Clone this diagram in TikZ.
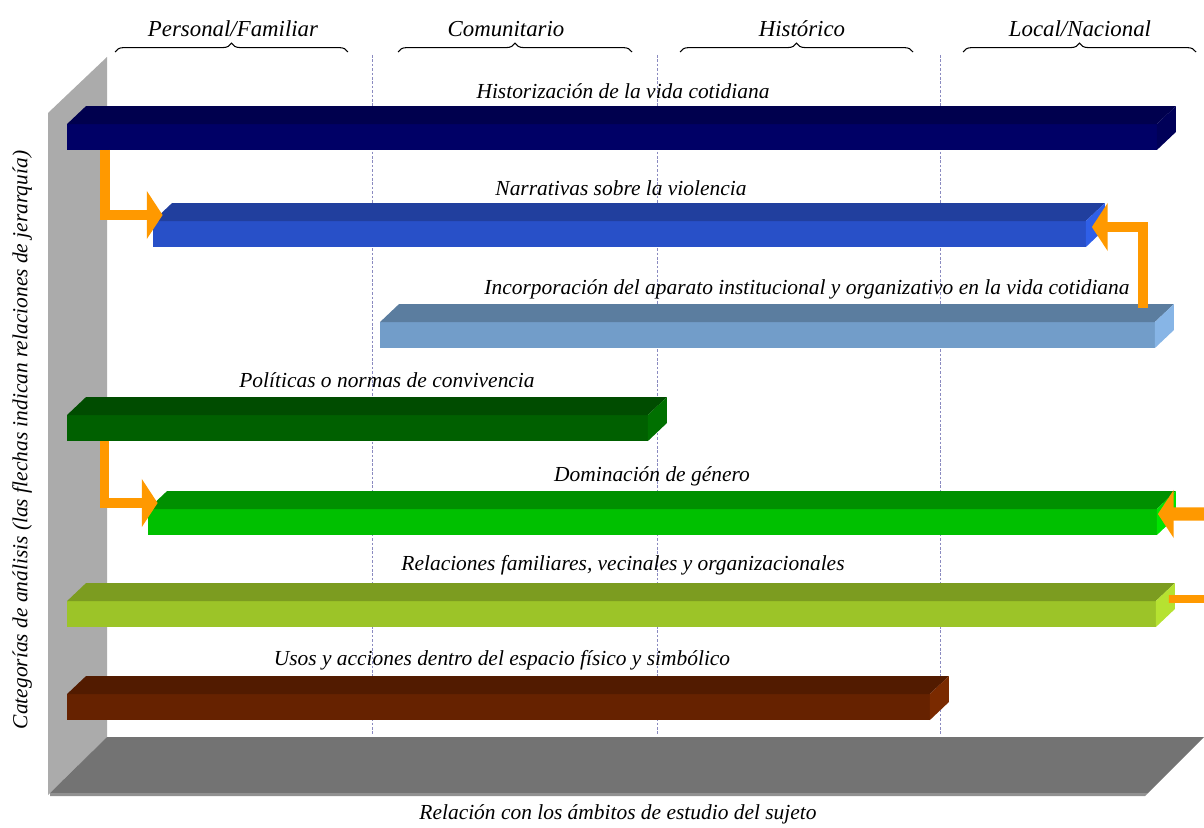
\documentclass[tikz,border=0pt]{standalone}
\usepackage{fontspec}
\setmainfont{Liberation Serif}
\usetikzlibrary{arrows.meta,calc,decorations.pathreplacing}

\definecolor{wallgray}{HTML}{ABABAB}
\definecolor{floorgray}{HTML}{737373}
\definecolor{flooredge}{HTML}{919191}
\definecolor{gridline}{HTML}{8A8AC0}
\definecolor{arroworange}{HTML}{FF9900}
\definecolor{histF}{HTML}{000066}
\definecolor{histT}{HTML}{00004E}
\definecolor{histS}{HTML}{000058}
\definecolor{narrF}{HTML}{2850C8}
\definecolor{narrT}{HTML}{213F9E}
\definecolor{narrS}{HTML}{2F5FE8}
\definecolor{incF}{HTML}{729DC9}
\definecolor{incT}{HTML}{5B7D9F}
\definecolor{incS}{HTML}{87B5E6}
\definecolor{polF}{HTML}{006000}
\definecolor{polT}{HTML}{004C00}
\definecolor{polS}{HTML}{007000}
\definecolor{domF}{HTML}{00C000}
\definecolor{domT}{HTML}{009000}
\definecolor{domS}{HTML}{00E400}
\definecolor{relF}{HTML}{9CC428}
\definecolor{relT}{HTML}{7C9C20}
\definecolor{relS}{HTML}{B6E231}
\definecolor{usoF}{HTML}{662200}
\definecolor{usoT}{HTML}{521B00}
\definecolor{usoS}{HTML}{7A2A00}

\begin{document}
\begin{tikzpicture}[x=0.02cm,y=-0.02cm]
    % Node styles
    \tikzstyle{bar_style} = [rectangle, inner sep=0pt, outer sep=0pt, minimum height=0.52cm]
    \tikzstyle{label_style} = [inner sep=0pt, font=\fontsize{12.2}{15}\selectfont\itshape]
    \tikzstyle{head_style} = [inner sep=0pt, font=\fontsize{13}{15}\selectfont\itshape]
    \tikzstyle{grid_style} = [gridline, line width=0.5pt, dash pattern=on 1.5pt off 1pt]
    \tikzstyle{brace_style} = [line width=0.6pt, decorate, decoration={brace, amplitude=5pt}]
    \tikzstyle{arrow_style} = [arroworange, line width=5.6pt, -{Triangle[length=9pt, width=27pt]}]

    \useasboundingbox (0,0) rectangle (1204,828);

    % Wall and floor
    \fill[wallgray] (48,113) -- (107,57) -- (107,737) -- (48,795) -- cycle;
    \fill[floorgray] (107,737) -- (1204,737) -- (1148,793) -- (50,793) -- cycle;
    \fill[flooredge] (50,793) -- (1148,793) -- (1145,796) -- (50,796) -- cycle;

    % Grid lines
    \draw[grid_style] (372,55) -- (372,735);
    \draw[grid_style] (657,55) -- (657,735);
    \draw[grid_style] (940,55) -- (940,735);

    % Headers
    \node[head_style] (pers) at (233,29) {Personal/Familiar};
    \node[head_style] (comu) at (506,29) {Comunitario};
    \node[head_style] (hist_head) at (802,29) {Histórico};
    \node[head_style] (loc) at (1080,29) {Local/Nacional};
    \draw[brace_style] (115,52) -- (348,52);
    \draw[brace_style] (398,52) -- (632,52);
    \draw[brace_style] (680,52) -- (913,52);
    \draw[brace_style] (963,52) -- (1196,52);

    % Bars
    \node[bar_style, fill=histF, minimum width=21.8cm] (hist) at (612,137) {};
    \fill[histT] (hist.north west) -- ++(19,-18) -- ($(hist.north east)+(19,-18)$) -- (hist.north east) -- cycle;
    \fill[histS] (hist.north east) -- ++(19,-18) -- ($(hist.south east)+(19,-18)$) -- (hist.south east) -- cycle;

    \node[bar_style, fill=narrF, minimum width=18.66cm] (narr) at (619.5,234) {};
    \fill[narrT] (narr.north west) -- ++(19,-18) -- ($(narr.north east)+(19,-18)$) -- (narr.north east) -- cycle;
    \fill[narrS] (narr.north east) -- ++(19,-18) -- ($(narr.south east)+(19,-18)$) -- (narr.south east) -- cycle;

    \node[bar_style, fill=incF, minimum width=15.5cm] (inc) at (767.5,335) {};
    \fill[incT] (inc.north west) -- ++(19,-18) -- ($(inc.north east)+(19,-18)$) -- (inc.north east) -- cycle;
    \fill[incS] (inc.north east) -- ++(19,-18) -- ($(inc.south east)+(19,-18)$) -- (inc.south east) -- cycle;

    \node[bar_style, fill=polF, minimum width=11.62cm] (pol) at (357.5,428) {};
    \fill[polT] (pol.north west) -- ++(19,-18) -- ($(pol.north east)+(19,-18)$) -- (pol.north east) -- cycle;
    \fill[polS] (pol.north east) -- ++(19,-18) -- ($(pol.south east)+(19,-18)$) -- (pol.south east) -- cycle;

    \node[bar_style, fill=domF, minimum width=20.18cm] (dom) at (652.5,522) {};
    \fill[domT] (dom.north west) -- ++(19,-18) -- ($(dom.north east)+(19,-18)$) -- (dom.north east) -- cycle;
    \fill[domS] (dom.north east) -- ++(19,-18) -- ($(dom.south east)+(19,-18)$) -- (dom.south east) -- cycle;

    \node[bar_style, fill=relF, minimum width=21.78cm] (rel) at (611.5,614) {};
    \fill[relT] (rel.north west) -- ++(19,-18) -- ($(rel.north east)+(19,-18)$) -- (rel.north east) -- cycle;
    \fill[relS] (rel.north east) -- ++(19,-18) -- ($(rel.south east)+(19,-18)$) -- (rel.south east) -- cycle;

    \node[bar_style, fill=usoF, minimum width=17.26cm] (uso) at (498.5,707) {};
    \fill[usoT] (uso.north west) -- ++(19,-18) -- ($(uso.north east)+(19,-18)$) -- (uso.north east) -- cycle;
    \fill[usoS] (uso.north east) -- ++(19,-18) -- ($(uso.south east)+(19,-18)$) -- (uso.south east) -- cycle;

    % Labels for bars
    \node[label_style] (hist_label) at (623,91) {Historización de la vida cotidiana};
    \node[label_style] (narr_label) at (621,188) {Narrativas sobre la violencia};
    \node[label_style] (inc_label) at (807,289) {Incorporación del aparato institucional y organizativo en la vida cotidiana};
    \node[label_style] (pol_label) at (387,380) {Políticas o normas de convivencia};
    \node[label_style] (dom_label) at (652,476) {Dominación de género};
    \node[label_style] (rel_label) at (623,565) {Relaciones familiares, vecinales y organizacionales};
    \node[label_style] (uso_label) at (502,660) {Usos y acciones dentro del espacio físico y simbólico};

    % Axis labels
    \node[label_style, rotate=90] (y_label) at (22,440) {Categorías de análisis (las flechas indican relaciones de jerarquía)};
    \node[label_style] (x_label) at (618,814) {Relación con los ámbitos de estudio del sujeto};

    % Arrows
    \coordinate (out_dom) at (1215,514);
    \coordinate (out_rel) at (1215,599);
    \draw[arrow_style] ($(hist.south west)+(37.5,0)$) |- ($(narr.north west)+(9.5,-6)$);
    \draw[arrow_style] ($(inc.north east)+(-12,-14)$) |- ($(narr.east)+(6,-7)$);
    \draw[arrow_style] ($(pol.south west)+(37.5,0)$) |- ($(dom.north west)+(9.5,-6)$);
    \draw[arrow_style, line width=7.5pt] (out_dom) -- ($(dom.north east)+(1,5)$);
    \draw[arroworange, line width=4.5pt] ($(rel.north east)+(13,-2)$) -- (out_rel);
\end{tikzpicture}
\end{document}
